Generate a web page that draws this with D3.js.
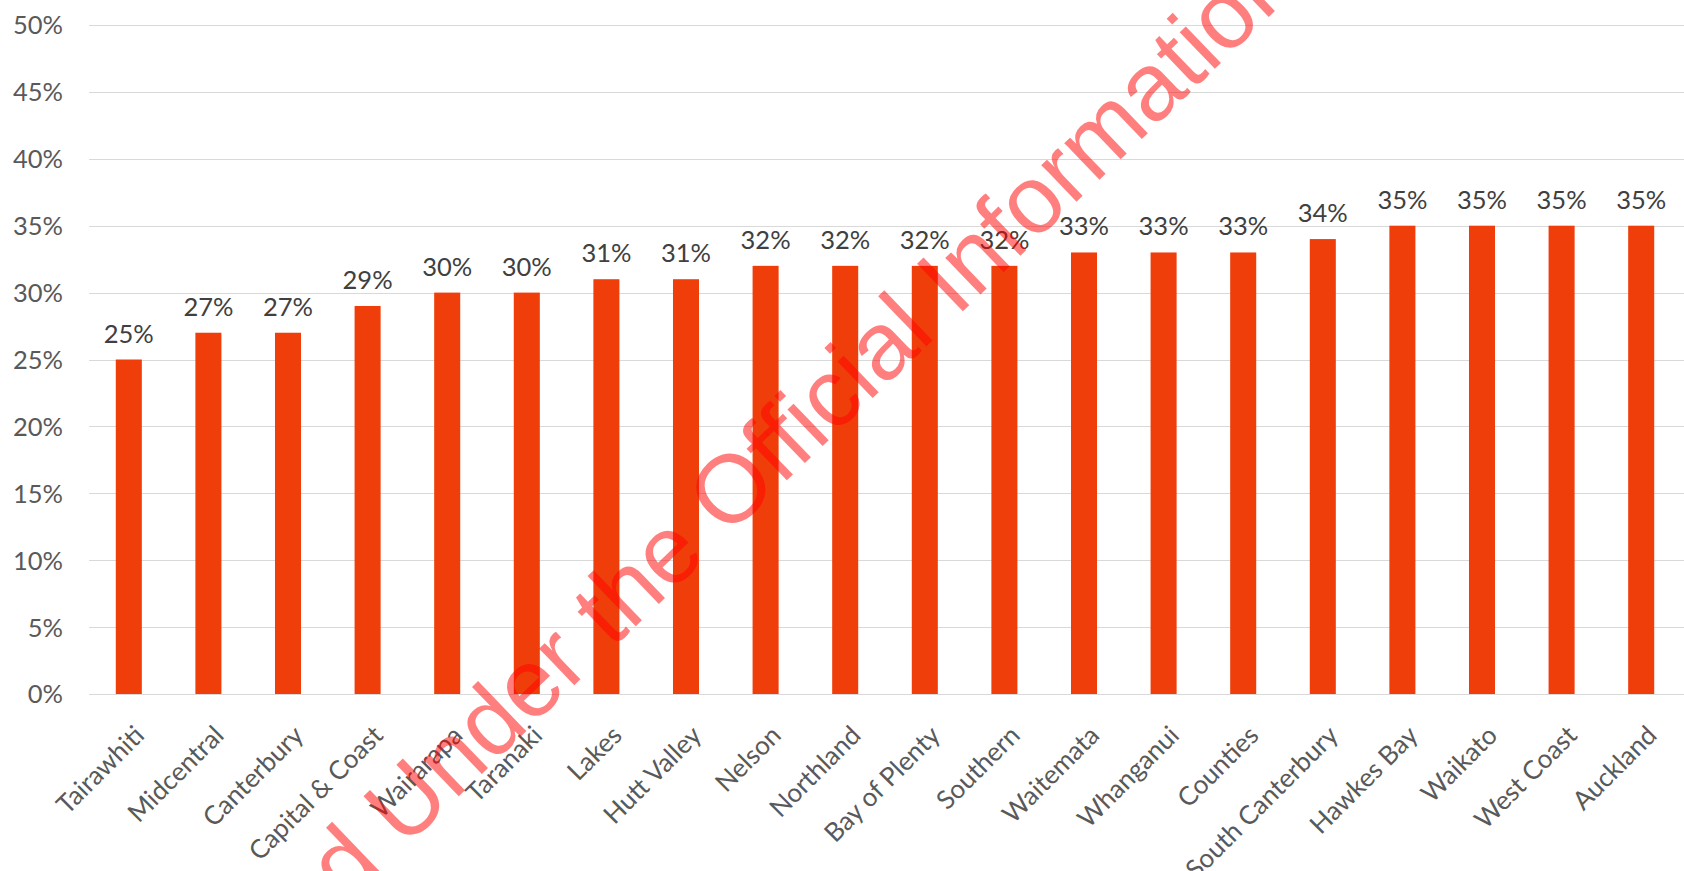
<!DOCTYPE html>
<html>
<head>
<meta charset="utf-8">
<script src="https://cdn.jsdelivr.net/npm/d3@7"></script>
<style>
  html, body { margin: 0; padding: 0; background: #ffffff; }
  svg { display: block; }
</style>
</head>
<body>
<script>
const categories = ["Tairawhiti","Midcentral","Canterbury","Capital & Coast","Wairarapa","Taranaki","Lakes","Hutt Valley","Nelson","Northland","Bay of Plenty","Southern","Waitemata","Whanganui","Counties","South Canterbury","Hawkes Bay","Waikato","West Coast","Auckland"];
const values = [25,27,27,29,30,30,31,31,32,32,32,32,33,33,33,34,35,35,35,35];
const yTicks = [0,5,10,15,20,25,30,35,40,45,50];
const watermarkText = "Released Under the Official Information Act";

const W = 1684, H = 871;
const svg = d3.select("body").append("svg").attr("width", W).attr("height", H);
svg.append("rect").attr("width", W).attr("height", H).attr("fill", "#ffffff");

const x = d3.scaleBand().domain(categories).range([89, 1681]).paddingInner(0.673).paddingOuter(0.3365);
const y = d3.scaleLinear().domain([0, 50]).range([694, 25]);

const font = "Lato, 'Open Sans', sans-serif";

// gridlines
svg.append("g").selectAll("line").data(yTicks).join("line")
  .attr("x1", 89).attr("x2", 1684)
  .attr("y1", d => Math.round(y(d)) + 0.5).attr("y2", d => Math.round(y(d)) + 0.5)
  .attr("stroke", "#d9d9d9").attr("stroke-width", 1);

// y axis labels
const yAxis = d3.axisLeft(y).tickValues(yTicks).tickFormat(d => d + "%").tickSize(0).tickPadding(0);
const yg = svg.append("g").attr("transform", "translate(63,0)").call(yAxis);
yg.select(".domain").remove();
yg.selectAll("text").attr("font-family", font).attr("font-size", 25.5).attr("fill", "#595959").attr("dy", "0.35em");

// bars
svg.append("g").selectAll("rect").data(values).join("rect")
  .attr("x", (d, i) => x(categories[i]))
  .attr("width", x.bandwidth())
  .attr("y", d => y(d))
  .attr("height", d => y(0) - y(d))
  .attr("fill", "#F03E0A");

// data labels
svg.append("g").selectAll("text").data(values).join("text")
  .attr("x", (d, i) => x(categories[i]) + x.bandwidth() / 2)
  .attr("y", d => y(d) - 17)
  .attr("text-anchor", "middle")
  .attr("font-family", font).attr("font-size", 25.5).attr("fill", "#404040")
  .text(d => d + "%");

// category labels
const xAxis = d3.axisBottom(x).tickSize(0).tickPadding(0);
const xg = svg.append("g").attr("transform", "translate(0,694)").call(xAxis);
xg.select(".domain").remove();
xg.selectAll("text")
  .attr("font-family", font).attr("font-size", 26).attr("fill", "#595959")
  .attr("text-anchor", "end")
  .attr("y", 0).attr("dy", 0)
  .attr("transform", "translate(17,43) rotate(-45)");

// watermark
const wm = svg.append("g").attr("transform", "translate(404,849) rotate(-43.9)");
wm.append("text")
  .attr("x", -4.502 * 96).attr("y", 0)
  .attr("font-family", "'Liberation Sans', Arial, sans-serif")
  .attr("font-size", 96)
  .attr("fill", "rgb(255,0,0)").attr("fill-opacity", 0.5)
  .text(watermarkText);
</script>
</body>
</html>
